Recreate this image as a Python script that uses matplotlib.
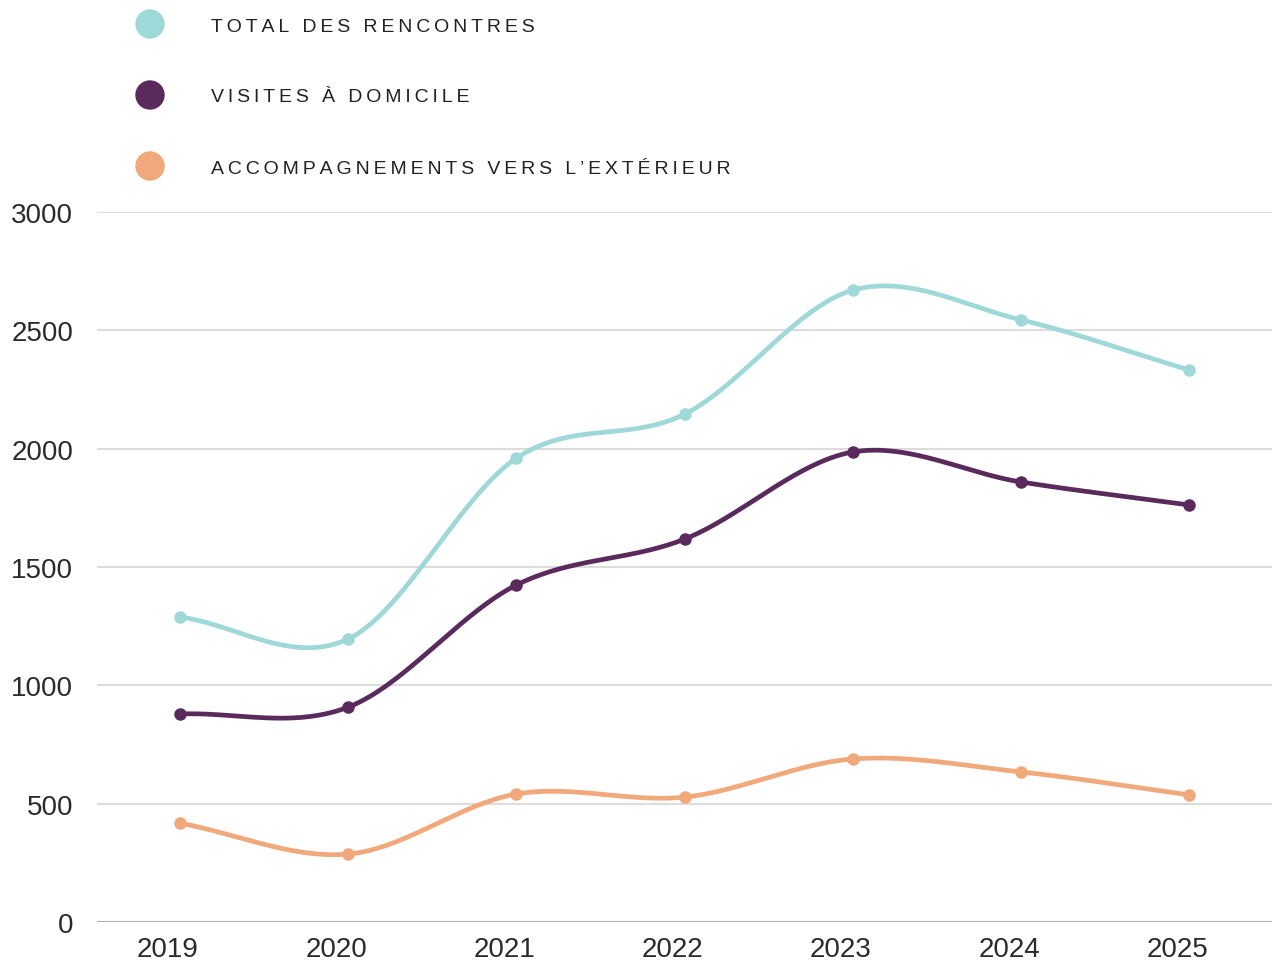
import matplotlib
import matplotlib.pyplot as plt
import matplotlib.transforms as mtransforms
import numpy as np

matplotlib.use('Agg')

plt.rcParams['font.family'] = ['Liberation Sans', 'DejaVu Sans']

years = [2019, 2020, 2021, 2022, 2023, 2024, 2025]
total = [1289, 1196, 1960, 2146, 2670, 2544, 2332]
visites = [879, 908, 1424, 1618, 1986, 1859, 1762]
accomp = [418, 287, 541, 528, 689, 634, 537]

labels = ['TOTAL DES RENCONTRES', 'VISITES À DOMICILE',
          'ACCOMPAGNEMENTS VERS L\u2019EXTÉRIEUR']
colors = ['#9fd8d8', '#5b2a5c', '#f1a87a']
y_ticks = [0, 500, 1000, 1500, 2000, 2500, 3000]


def smooth(x, y, n=40):
    # uniform Catmull-Rom through every point
    x = np.asarray(x, dtype=float)
    y = np.asarray(y, dtype=float)
    m = np.gradient(y, x)
    xs, ys = [], []
    for i in range(len(x) - 1):
        h = x[i + 1] - x[i]
        t = np.linspace(0, 1, n)
        h00 = 2 * t**3 - 3 * t**2 + 1
        h10 = t**3 - 2 * t**2 + t
        h01 = -2 * t**3 + 3 * t**2
        h11 = t**3 - t**2
        xs.append(x[i] + t * h)
        ys.append(h00 * y[i] + h10 * h * m[i] + h01 * y[i + 1] + h11 * h * m[i + 1])
    return np.concatenate(xs), np.concatenate(ys)


fig = plt.figure(figsize=(12.75, 9.62), dpi=100)
ax = fig.add_axes([0.076, 0.0405, 0.922, 0.7381])

for vals, color in zip([total, visites, accomp], colors):
    sx, sy = smooth(years, vals)
    ax.plot(sx, sy, color=color, lw=3.4, solid_capstyle='round', zorder=3)
    ax.plot(years, vals, 'o', color=color, ms=8, zorder=4)

ax.set_xlim(2018.507, 2025.493)
ax.set_ylim(0, 3000)
ax.set_yticks(y_ticks)
ax.set_xticks(years)
ax.set_xticklabels([str(y) for y in years])

for y in y_ticks[1:]:
    ax.axhline(y, color='#dcdcdc', lw=1.5, zorder=1)
ax.axhline(0, color='#b4b4b4', lw=1.5, zorder=1)

for s in ax.spines.values():
    s.set_visible(False)
ax.tick_params(length=0, labelsize=20, labelcolor='#2b2b2b')
ax.tick_params(axis='y', pad=17)
ax.tick_params(axis='x', pad=10)

shift = mtransforms.ScaledTranslation(-12 / 100, 0, fig.dpi_scale_trans)
for lab in ax.get_xticklabels():
    lab.set_transform(lab.get_transform() + shift)

# legend drawn by hand, letter-spaced
leg_y = [25, 96, 167]
for text, color, py in zip(labels, colors, leg_y):
    fy = 1 - py / 962
    fig.patches.append(matplotlib.patches.Ellipse(
        (150 / 1275, fy), 28 / 1275, 28 / 962, color=color,
        transform=fig.transFigure))
    fig.text(211 / 1275, 1 - (py + 2) / 962, '\u2009'.join(text), fontsize=14,
             color='#222222', va='center', ha='left')

fig.savefig('out.png', dpi=100, facecolor='white')
